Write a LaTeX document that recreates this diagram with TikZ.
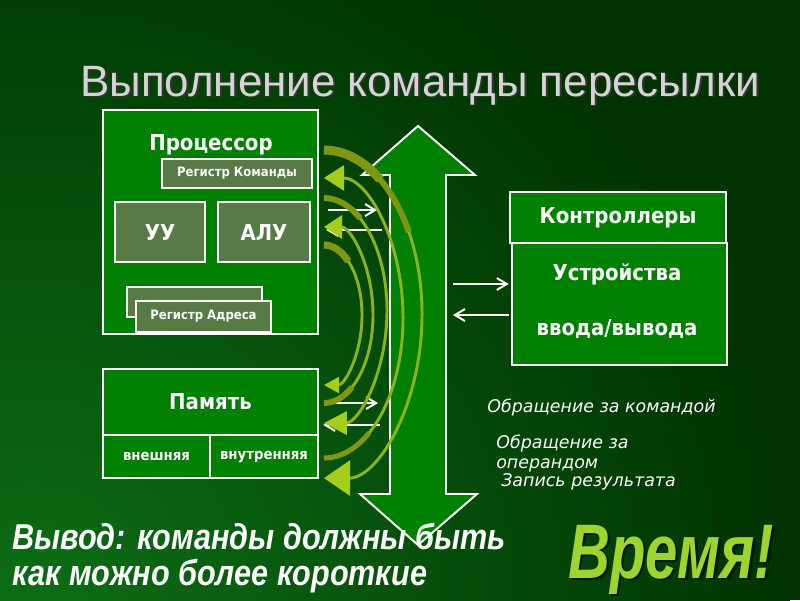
\documentclass[tikz,border=0pt]{standalone}
\usepackage{fontspec}
\setmainfont{Liberation Sans}
\newfontfamily\boxfont[FakeStretch=0.9]{DejaVu Sans}
\newfontfamily\notefont{DejaVu Sans}
\usetikzlibrary{arrows.meta,positioning}

\definecolor{bgdark}{RGB}{0,51,0}
\definecolor{bglight}{RGB}{12,110,22}
\definecolor{boxgreen}{RGB}{0,128,0}
\definecolor{reggreen}{RGB}{88,122,70}
\definecolor{arcolive}{RGB}{128,150,18}
\definecolor{arcline}{RGB}{140,178,25}
\definecolor{archead}{RGB}{165,205,30}
\definecolor{titlegray}{RGB}{212,212,212}
\definecolor{timegreen}{RGB}{158,212,48}
\definecolor{shadowgreen}{RGB}{0,25,0}

% text with a dropped shadow
\newcommand{\shadowed}[3]{\makebox[0pt][l]{\hspace{#1}\raisebox{-#1}{\textcolor{#2}{#3}}}#3}

\begin{document}
\begin{tikzpicture}[x=0.025cm,y=0.025cm,
        unitbox/.style={draw=white,line width=1.8pt,fill=boxgreen,text=white,inner sep=0pt},
        regbox/.style={draw=white,line width=1.8pt,fill=reggreen,text=white,inner sep=0pt},
        bigfont/.style={font=\boxfont\bfseries\fontsize{15.6}{18}\selectfont},
        smallfont/.style={font=\boxfont\bfseries\fontsize{9.2}{11}\selectfont},
        cellfont/.style={font=\boxfont\bfseries\fontsize{10.5}{12}\selectfont},
        wire/.style={draw=white,line width=1.4pt,-{Straight Barb[length=0.25cm,width=0.3cm]}},
        note/.style={text=white,anchor=base west,inner sep=0pt,font=\notefont\itshape\fontsize{12.4}{14}\selectfont},
        busarrow/.style={draw=white,line width=1.4pt,fill=boxgreen,line join=miter}]
    \useasboundingbox (0,0) rectangle (800,-600);
    \fill[bgdark] (0,0) rectangle (800,-600);
    \begin{scope}
        \clip (0,0) rectangle (800,-600);
        \shade[inner color=bglight,outer color=bgdark] (30,-620) circle (760);
    \end{scope}

    % title
    \node[anchor=base west,inner sep=0pt,text=titlegray,font=\fontsize{31.2}{36}\selectfont] (title) at (80,-96) {\shadowed{1.4pt}{black!80}{Выполнение команды пересылки}};

    % processor
    \node[unitbox,minimum width=5.375cm,minimum height=5.6cm] (proc) at (210.5,-222) {};
    \node[bigfont,text=white,anchor=base] (proctitle) at (211,-150) {Процессор};
    \node[regbox,smallfont,minimum width=3.75cm,minimum height=0.725cm] (regcmd) at (237,-173.5) {Регистр Команды};
    \node[regbox,bigfont,minimum width=2.25cm,minimum height=1.5cm] (cu) at (160,-232) {УУ};
    \node[regbox,bigfont,minimum width=2.3cm,minimum height=1.5cm] (alu) at (264,-232) {АЛУ};
    \node[regbox,minimum width=3.375cm,minimum height=0.75cm] (regback) at (194.5,-302) {};
    \node[regbox,smallfont,minimum width=3.375cm,minimum height=0.775cm] (regadr) at (203.5,-316.5) {Регистр Адреса};

    % memory
    \node[unitbox,bigfont,minimum width=5.375cm,minimum height=1.65cm] (mem) at (210.5,-402) {Память};
    \node[unitbox,cellfont,minimum width=2.675cm,minimum height=1.075cm] (memext) at (156.5,-456.5) {внешняя};
    \node[unitbox,cellfont,minimum width=2.7cm,minimum height=1.075cm] (memint) at (264,-456.5) {внутренняя};

    % controllers and devices
    \node[unitbox,bigfont,minimum width=5.4cm,minimum height=1.275cm] (ctrl) at (618,-217.5) {Контроллеры};
    \node[unitbox,minimum width=5.375cm,minimum height=3.05cm] (dev) at (619.5,-304) {};
    \node[bigfont,text=white,anchor=base] (devtop) at (617,-280) {Устройства};
    \node[bigfont,text=white,anchor=base] (devbot) at (617,-335) {ввода/вывода};

    % bus
    \draw[busarrow] (418,-126) -- (362,-175) -- (390,-175) -- (390,-494) -- (360,-494)
        -- (418,-545) -- (477,-494) -- (446,-494) -- (446,-175) -- (475,-175) -- cycle;
    \coordinate (busW) at (390,-300);
    \coordinate (busE) at (446,-300);

    \draw[wire,shorten <=0.225cm,shorten >=0.325cm] (proc.east |- 0,-210) -- (busW |- 0,-210);
    \draw[wire,shorten <=0.2cm,shorten >=0.175cm] (busW |- 0,-230) -- (proc.east |- 0,-230);
    \draw[wire,shorten <=0.175cm,shorten >=0.3cm] (mem.east |- 0,-403) -- (busW |- 0,-403);
    \draw[wire,shorten <=0.25cm,shorten >=0.1cm] (busW |- 0,-425) -- (mem.east |- 0,-425);
    \draw[wire,shorten <=0.175cm,shorten >=0.05cm] (busE |- 0,-284) -- (dev.west |- 0,-284);
    \draw[wire,shorten <=0.05cm,shorten >=0.175cm] (dev.west |- 0,-315) -- (busE |- 0,-315);

    % exchange arcs
    \coordinate (a1) at (324,-150);
    \coordinate (a2) at (324,-458);
    \coordinate (a3) at (324,-198);
    \coordinate (a4) at (324,-403);
    \coordinate (a5) at (324,-245);
    \draw[arcline,line width=2.1pt,-{Triangle[length=0.65cm,width=0.875cm,color=archead]}] (a1) arc[start angle=90,end angle=-90,x radius=2.45cm,y radius=4.1cm];
    \draw[arcolive,line width=6.4pt] (a1) arc[start angle=90,end angle=55,x radius=2.45cm,y radius=4.1cm];
    \draw[arcolive,line width=4.2pt] (a1) arc[start angle=90,end angle=30,x radius=2.45cm,y radius=4.1cm];
    \draw[arcline,line width=2.1pt,-{Triangle[length=0.5cm,width=0.625cm,color=archead]}] (a2) arc[start angle=-90,end angle=90,x radius=1.975cm,y radius=3.5cm];
    \draw[arcolive,line width=3.6pt] (a2) arc[start angle=-90,end angle=-55,x radius=1.975cm,y radius=3.5cm];
    \draw[arcline,line width=2.1pt,-{Triangle[length=0.57cm,width=0.575cm,color=archead]}] (a3) arc[start angle=90,end angle=-90,x radius=1.575cm,y radius=2.8125cm];
    \draw[arcolive,line width=4.2pt] (a3) arc[start angle=90,end angle=55,x radius=1.575cm,y radius=2.8125cm];
    \draw[arcline,line width=2.1pt,-{Triangle[length=0.45cm,width=0.575cm,color=archead]}] (a4) arc[start angle=-90,end angle=90,x radius=1.225cm,y radius=2.2cm];
    \draw[arcolive,line width=4.2pt] (a4) arc[start angle=-90,end angle=-55,x radius=1.225cm,y radius=2.2cm];
    \draw[arcline,line width=2.1pt,-{Triangle[length=0.38cm,width=0.4cm,color=archead]}] (a5) arc[start angle=90,end angle=-90,x radius=0.95cm,y radius=1.75cm];
    \draw[arcolive,line width=5pt] (a5) arc[start angle=90,end angle=50,x radius=0.95cm,y radius=1.75cm];

    % notes
    \node[note] (fetchcmd) at (487,-412) {Обращение за командой};
    \node[note] (fetchop) at (496,-448) {Обращение за};
    \node[note] (fetchop2) at (496,-468) {операндом};
    \node[note] (store) at (501,-486) {Запись результата};

    % conclusion
    \node[anchor=base west,inner sep=0pt,text=white,font=\bfseries\itshape\fontsize{25.6}{30}\selectfont] (concl1) at (12,-549) {\scalebox{0.85}[1]{Вывод: команды должны быть}};
    \node[anchor=base west,inner sep=0pt,text=white,font=\bfseries\itshape\fontsize{25.6}{30}\selectfont] (concl2) at (12,-585) {\scalebox{0.85}[1]{как можно более короткие}};
    \node[anchor=base west,inner sep=0pt,text=timegreen,font=\bfseries\itshape\fontsize{55}{60}\selectfont] (time) at (568,-578) {\scalebox{0.75}[1]{\shadowed{2.1pt}{shadowgreen}{Время!}}};
\end{tikzpicture}
\end{document}
